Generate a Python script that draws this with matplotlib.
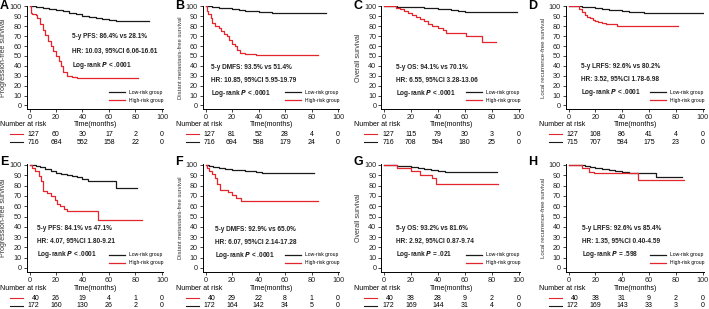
import matplotlib
matplotlib.use("Agg")
import matplotlib.pyplot as plt
from matplotlib.lines import Line2D

plt.rcParams['font.family'] = ['Liberation Sans', 'DejaVu Sans']

RED = '#e3262e'
BLACK = '#1a1a1a'

# ---- survival curves (time in months, survival %) ----
a_low_t = [0, 5, 10, 15, 20, 25, 30, 35, 40, 45, 50, 55, 60, 65, 90]
a_low_s = [100, 99.5, 98.5, 97.5, 96.5, 95, 93.5, 92, 90.5, 89, 88, 87, 86, 85, 85]
a_high_t = [0, 1, 2, 5, 6, 8, 10, 12, 14, 16, 18, 20, 22, 24, 25, 28, 32, 36, 82]
a_high_s = [100, 93, 92, 91, 88, 82, 76, 71, 65, 60, 55, 50, 45, 40, 34, 30, 29, 28, 28]

b_low_t = [0, 5, 10, 20, 25, 30, 40, 50, 91]
b_low_s = [100, 99.5, 98.5, 97, 96, 95, 94, 93, 93]
b_high_t = [0, 1, 2, 4, 5, 7, 10, 12, 14, 16, 18, 20, 22, 24, 26, 30, 38, 85]
b_high_s = [100, 95, 92, 88, 83, 80, 78, 75, 72, 70, 66, 62, 60, 56, 53, 52, 51, 51]

c_low_t = [0, 10, 20, 30, 40, 50, 55, 60, 99]
c_low_s = [100, 99.5, 99, 98, 97, 96, 95.5, 94.5, 94]
c_high_t = [0, 9, 12, 15, 18, 21, 24, 27, 30, 33, 36, 40, 44, 46, 61, 73, 83]
c_high_s = [100, 98, 97, 95, 93, 91, 89, 87, 85, 82, 80, 78, 76, 73, 70, 64.5, 64.5]

d_low_t = [0, 10, 15, 20, 25, 30, 35, 40, 45, 50, 56, 100]
d_low_s = [100, 99.5, 99, 98, 97, 96.5, 96, 95, 94.5, 94, 93, 93]
d_high_t = [0, 8, 10, 12, 14, 16, 18, 20, 22, 25, 28, 36, 82]
d_high_s = [100, 97, 94, 91, 89, 88, 86, 85, 84, 83, 82, 80.5, 80.5]

e_low_t = [0, 5, 8, 12, 16, 20, 24, 28, 32, 36, 40, 44, 65, 81]
e_low_s = [100, 99, 98, 96, 94, 92, 91, 90, 89, 88, 86, 84, 78, 78]
e_high_t = [0, 2, 4, 7, 9, 10, 13, 16, 19, 21, 23, 26, 28, 52, 85]
e_high_s = [100, 97, 94, 89, 84, 75, 73, 70, 66, 62, 60, 57, 55, 47, 47]

f_low_t = [0, 3, 6, 10, 15, 20, 25, 30, 38, 43, 82]
f_low_s = [100, 99, 98, 97, 96, 95.5, 95, 94.5, 93.5, 92.5, 92.5]
f_high_t = [0, 1, 3, 5, 7, 9, 11, 17, 20, 23, 27, 85]
f_high_s = [100, 97, 94, 91, 87, 82, 76, 74, 71, 68, 65, 65]

g_low_t = [0, 10, 15, 20, 25, 30, 35, 40, 45, 84]
g_low_s = [100, 99.5, 99, 98, 97, 96, 95, 94, 93, 93]
g_high_t = [0, 10, 20, 27, 36, 39, 85]
g_high_s = [100, 97, 94, 90, 87, 81.6, 81.6]

h_low_t = [0, 12, 16, 20, 25, 30, 35, 40, 45, 65, 85]
h_low_s = [100, 99, 98, 97, 96, 95, 94, 93, 92, 88, 88]
h_high_t = [0, 10, 15, 19, 52, 86]
h_high_s = [100, 97, 93, 92, 85, 85]

# ---- number at risk (times 0, 20, ..., 100) ----
risk_times = [0, 20, 40, 60, 80, 100]
a_risk_high = [127, 60, 30, 17, 2, 0]
a_risk_low = [716, 684, 552, 158, 22, 0]
b_risk_high = [127, 81, 52, 28, 4, 0]
b_risk_low = [716, 694, 588, 179, 24, 0]
c_risk_high = [127, 115, 79, 30, 3, 0]
c_risk_low = [716, 708, 594, 180, 25, 0]
d_risk_high = [127, 108, 86, 41, 4, 0]
d_risk_low = [715, 707, 584, 175, 23, 0]
e_risk_high = [40, 26, 19, 4, 1, 0]
e_risk_low = [172, 160, 130, 26, 2, 0]
f_risk_high = [40, 29, 22, 8, 1, 0]
f_risk_low = [172, 164, 142, 34, 5, 0]
g_risk_high = [40, 38, 28, 9, 2, 0]
g_risk_low = [172, 169, 144, 31, 4, 0]
h_risk_high = [40, 38, 31, 9, 2, 0]
h_risk_low = [172, 169, 143, 33, 3, 0]

# ---- text ----
letters = ['A', 'B', 'C', 'D', 'E', 'F', 'G', 'H']
ylabels = ['Progression-free survival', 'Distant metastasis-free survival',
           'Overall survival', 'Local recurrence-free survival'] * 2
five_year = ['5-y PFS: 86.4% vs 28.1%', '5-y DMFS: 93.5% vs 51.4%',
             '5-y OS: 94.1% vs 70.1%', '5-y LRFS: 92.6% vs 80.2%',
             '5-y PFS: 84.1% vs 47.1%', '5-y DMFS: 92.9% vs 65.0%',
             '5-y OS: 93.2% vs 81.6%', '5-y LRFS: 92.6% vs 85.4%']
hr_text = ['HR: 10.03, 95%CI 6.06-16.61', 'HR: 10.85, 95%CI 5.95-19.79',
           'HR: 6.55, 95%CI 3.28-13.06', 'HR: 3.52, 95%CI 1.78-6.98',
           'HR: 4.07, 95%CI 1.80-9.21', 'HR: 6.07, 95%CI 2.14-17.28',
           'HR: 2.92, 95%CI 0.87-9.74', 'HR: 1.35, 95%CI 0.40-4.59']
p_text = ['< .0001', '< .0001', '< .0001', '< .0001',
          '< .0001', '< .0001', '= .021', '= .598']

curves = [
    (a_low_t, a_low_s, a_high_t, a_high_s),
    (b_low_t, b_low_s, b_high_t, b_high_s),
    (c_low_t, c_low_s, c_high_t, c_high_s),
    (d_low_t, d_low_s, d_high_t, d_high_s),
    (e_low_t, e_low_s, e_high_t, e_high_s),
    (f_low_t, f_low_s, f_high_t, f_high_s),
    (g_low_t, g_low_s, g_high_t, g_high_s),
    (h_low_t, h_low_s, h_high_t, h_high_s),
]
risks = [
    (a_risk_high, a_risk_low), (b_risk_high, b_risk_low),
    (c_risk_high, c_risk_low), (d_risk_high, d_risk_low),
    (e_risk_high, e_risk_low), (f_risk_high, f_risk_low),
    (g_risk_high, g_risk_low), (h_risk_high, h_risk_low),
]

# ---- layout in pixels: x of t=0, x of t=100, y of 100%, y of 0% ----
W, H = 709, 309
cols = [(29.5, 162), (205.5, 338), (384, 518.5), (568.5, 702.5)]
rows = [(6.5, 105.5), (165, 268)]
letter_dx = [-29.5, -30.5, -31, -40]     # letter x relative to t=0
letter_top = [0, 156]
ylabel_size = [5, 4.2, 5, 4.4]
# y (px) of label row, red row, black row of the risk table
table_y = [(125, 134, 142), (289, 298, 305.5)]
# annotation anchor (time, survival of first line, line step)
ann_pos = [(32, 70, 15), (4, 38, 13), (9, 38, 13), (9, 39, 13),
           (6, 38, 12.5), (7, 37, 12.5), (9, 38, 12.5), (10, 38, 12.5)]

fig = plt.figure(figsize=(W / 100, H / 100), dpi=100)

for i in range(8):
    r, c = divmod(i, 4)
    x0, x100 = cols[c]
    y100, y0 = rows[r]
    sx = (x100 - x0) / 100
    sy = (y0 - y100) / 100
    left = x0 - 2 * sx
    right = x0 + 101 * sx
    top = y100 - 1 * sy
    bottom = y0 + 4 * sy
    ax = fig.add_axes([left / W, 1 - bottom / H, (right - left) / W, (bottom - top) / H])

    lt, ls, ht, hs = curves[i]
    ax.step(lt, ls, where='post', color=BLACK, lw=0.9, label='Low-risk group')
    ax.step(ht, hs, where='post', color=RED, lw=0.9, label='High-risk group')

    ax.set_xlim(-2, 101)
    ax.set_ylim(-4, 101)
    ax.set_xticks(range(0, 101, 20))
    ax.set_yticks(range(0, 101, 10))
    ax.tick_params(labelsize=5.2, length=2, width=0.6, pad=1.5, colors='#222222')
    for sp in ['top', 'right']:
        ax.spines[sp].set_visible(False)
    for sp in ['left', 'bottom']:
        ax.spines[sp].set_linewidth(0.7)
    ax.set_ylabel(ylabels[i], fontsize=ylabel_size[c], labelpad=2, color='#333333')

    ax.legend(loc='lower right', bbox_to_anchor=(1.02, 0.04), frameon=False,
              fontsize=3.6, handlelength=3.2, handletextpad=0.8,
              labelspacing=0.6, borderpad=0)

    tx, ty, dy = ann_pos[i]
    kw = dict(fontsize=4.7, fontweight='bold', color='#222222', va='center')
    ax.text(tx, ty, five_year[i], **kw)
    ax.text(tx, ty - dy, hr_text[i], **kw)
    ax.text(tx, ty - 2 * dy, 'Log-rank $\\mathbfit{P}$ ' + p_text[i], **kw)

    fig.text((x0 + letter_dx[c]) / W, 1 - letter_top[r] / H, letters[i], fontsize=9,
             fontweight='bold', va='top', ha='left')

    # risk table
    ly, ry, by = table_y[r]
    fig.text((x0 - 29.5) / W, 1 - ly / H, 'Number at risk', fontsize=5, va='center')
    fig.text((x0 + 50 * sx) / W, 1 - ly / H, 'Time(months)', fontsize=5,
             va='center', ha='center')
    hi, lo = risks[i]
    for yy, vals, col in [(ry, hi, RED), (by, lo, BLACK)]:
        fig.add_artist(Line2D([(x0 - 20) / W, (x0 - 7) / W], [1 - yy / H] * 2,
                              color=col, lw=0.8))
        for t, v in zip(risk_times, vals):
            if t == 0:
                fig.text((x0 + 7.5 * sx) / W, 1 - yy / H, str(v), fontsize=5,
                         va='center', ha='right')
            else:
                fig.text((x0 + t * sx) / W, 1 - yy / H, str(v), fontsize=5,
                         va='center', ha='center')

fig.savefig('out.png', dpi=100)
